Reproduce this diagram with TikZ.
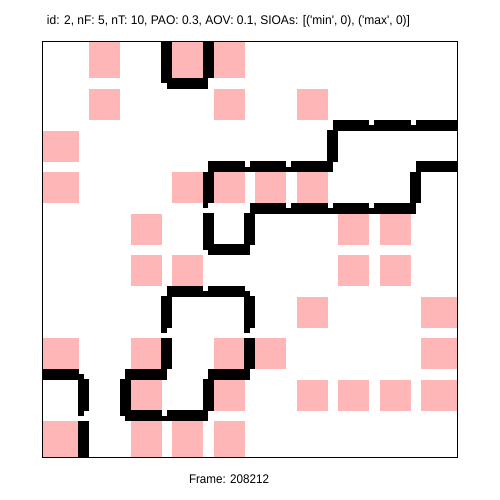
\documentclass[tikz,border=0pt]{standalone}
\usepackage{fontspec}
\setmainfont{Liberation Sans}[Ligatures=TeXOff]
\usepackage{graphicx}
\definecolor{pinkc}{RGB}{255,182,182}
\tikzset{
  cellfill/.style={fill=pinkc},
  wallfill/.style={fill=black},
  framebox/.style={draw=black, line width=1pt},
  labeltext/.style={anchor=base, inner sep=0pt}
}
\begin{document}
\begin{tikzpicture}[x=1pt,y=-1pt]
\useasboundingbox (0,0) rectangle (500,500);
\fill[white] (0,0) rectangle (500,500);
% pink cells (column/row)
\foreach \c/\r in {1/0,3/0,4/0, 1/1,4/1,6/1, 0/2, 0/3,3/3,4/3,5/3,6/3, 2/4,7/4,8/4, 2/5,3/5,7/5,8/5, 6/6,9/6, 0/7,2/7,4/7,5/7,9/7, 2/8,4/8,6/8,7/8,8/8,9/8, 0/9,2/9,3/9,4/9}{
  \pgfmathsetmacro\pxa{\c==0 ? 42 : 47.5+41.5*\c}
  \pgfmathsetmacro\pxb{\c==9 ? 457 : 78.5+41.5*\c}
  \pgfmathsetmacro\pya{\r==0 ? 42 : 47.5+41.5*\r}
  \pgfmathsetmacro\pyb{\r==9 ? 457 : 78.5+41.5*\r}
  \path[cellfill] (\pxa,\pya) rectangle (\pxb,\pyb);
}
% horizontal wall segments (boundary row / starting column)
\foreach \k/\a in {1/3, 2/7,2/8,2/9, 3/4,3/5,3/6, 5/4, 4/5,4/6,4/7,4/8, 3/9, 6/3,6/4, 8/4, 9/2,9/3, 8/2, 8/0}{
  \pgfmathsetmacro\hy{42+41.5*\k}
  \pgfmathsetmacro\hxa{42+41.5*\a}
  \pgfmathsetmacro\hxb{42+41.5*(\a+1)}
  \pgfmathsetmacro\hxt{\a==9 ? 457 : \hxb-5}
  \path[wallfill] (\hxa,\hy-5.5) rectangle (\hxt,\hy);
  \path[wallfill] (\hxa,\hy) rectangle (\hxb,\hy+5.5);
}
% vertical wall segments (boundary column / starting row)
\foreach \k/\a in {3/0,4/0, 7/2, 4/3,4/4, 5/4, 9/3, 3/6,3/7, 5/6,5/7, 4/8, 2/8, 1/8,1/9}{
  \pgfmathsetmacro\vx{42+41.5*\k}
  \pgfmathsetmacro\vya{\a==0 ? 42 : 47+41.5*\a}
  \pgfmathsetmacro\vyb{42+41.5*(\a+1)}
  \pgfmathsetmacro\vyr{\a==9 ? 457 : \vyb-5}
  \path[wallfill] (\vx-5.5,\vya) rectangle (\vx,\vyb);
  \path[wallfill] (\vx,\vya) rectangle (\vx+5.5,\vyr);
}
\draw[framebox] (42,42) rectangle (457,457);
\node[labeltext] (title) at (228.5,24.5) {\resizebox{363pt}{\height}{\fontsize{12.5}{14}\selectfont id: 2, nF: 5, nT: 10, PAO: 0.3, AOV: 0.1, SIOAs: [('min', 0), ('max', 0)]}};
\node[labeltext] (framelabel) at (229,483) {\resizebox{80pt}{\height}{\fontsize{12.5}{14}\selectfont Frame: 208212}};
\end{tikzpicture}
\end{document}
